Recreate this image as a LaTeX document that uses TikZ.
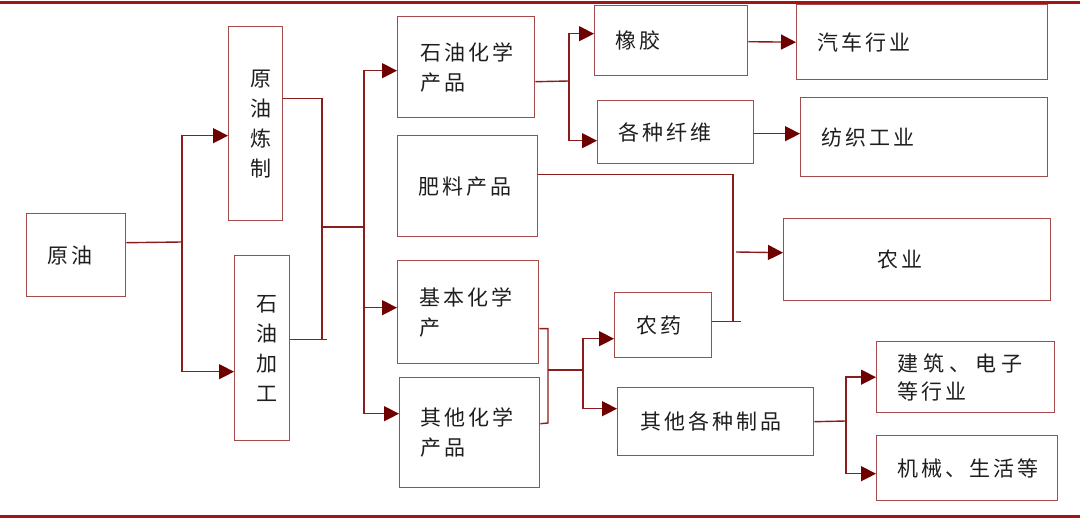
\documentclass[tikz,border=0pt]{standalone}
\usepackage{fontspec}
\newfontfamily\cjk[LetterSpace=14]{Noto Sans CJK SC}
\usetikzlibrary{arrows.meta}
\definecolor{boxc}{HTML}{A34A4A}
\definecolor{linec}{HTML}{8A1C1C}
\definecolor{arrc}{HTML}{6E0000}
\definecolor{rulec}{HTML}{A31515}
\definecolor{txt}{HTML}{1E1E1E}
\begin{document}
\begin{tikzpicture}[x=1pt,y=-1pt,
 box/.style={draw=boxc, line width=1.4pt, anchor=north west, inner ysep=0pt, text=txt, font=\cjk\fontsize{21}{30}\selectfont, align=left},
 conn/.style={draw=linec, line width=1.4pt},
 arr/.style={conn, -{Triangle[length=15pt,width=15pt,color=arrc]}},
 rule/.style={draw=rulec, line width=3pt}]
\useasboundingbox (0,0) rectangle (1080,526);
\draw[rule] (0,2.5) -- (1080,2.5);
\draw[rule] (0,517) -- (1080,517);
% boxes
\node[box, minimum width=99pt, minimum height=83pt, inner xsep=21pt, text width=57pt] (yuanyou) at (26,213) {原油};
\node[box, minimum width=54pt, minimum height=194pt, inner xsep=0pt, text width=54pt, align=center] (lianzhi) at (228,26) {\hspace*{10pt}原\\\hspace*{10pt}油\\\hspace*{10pt}炼\\\hspace*{10pt}制};
\node[box, minimum width=55pt, minimum height=185pt, inner xsep=0pt, text width=55pt, align=center] (jiagong) at (234,255) {\hspace*{9pt}石\\\hspace*{9pt}油\\\hspace*{9pt}加\\\hspace*{9pt}工};
\node[box, minimum width=137pt, minimum height=101pt, inner xsep=23pt, text width=91pt] (shihua) at (397,16) {石油化学\\产品};
\node[box, minimum width=140pt, minimum height=101pt, inner xsep=21pt, text width=98pt] (feiliao) at (397,135) {肥料产品};
\node[box, minimum width=141pt, minimum height=103pt, inner xsep=22pt, text width=97pt] (jiben) at (397,260) {基本化学\\产};
\node[box, minimum width=140pt, minimum height=110pt, inner xsep=21pt, text width=98pt] (qita) at (399,377) {其他化学\\产品};
\node[box, minimum width=153pt, minimum height=70pt, inner xsep=21pt, text width=111pt] (xiangjiao) at (594,5) {橡胶};
\node[box, minimum width=156pt, minimum height=63pt, inner xsep=21pt, text width=114pt] (xianwei) at (597,100) {各种纤维};
\node[box, minimum width=97pt, minimum height=65pt, inner xsep=22pt, text width=53pt] (nongyao) at (614,292) {农药};
\node[box, minimum width=196pt, minimum height=68pt, inner xsep=23pt, text width=150pt] (zhipin) at (617,387) {其他各种制品};
\node[box, minimum width=251pt, minimum height=75pt, inner xsep=21pt, text width=209pt] (qiche) at (796,4) {汽车行业};
\node[box, minimum width=247pt, minimum height=79pt, inner xsep=21pt, text width=205pt] (fangzhi) at (800,97) {纺织工业};
\node[box, minimum width=267pt, minimum height=82pt, inner xsep=94pt, text width=79pt] (nongye) at (783,218) {农业};
\node[box, minimum width=178pt, minimum height=71pt, inner xsep=21pt, text width=136pt, font=\cjk\fontsize{21}{28}\selectfont] (jianzhu) at (876,341) {建\kern5pt 筑\kern5pt 、\kern5pt 电\kern5pt 子\\等行业};
\node[box, minimum width=181pt, minimum height=65pt, inner xsep=21pt, text width=139pt] (jixie) at (876,435) {机械、生活等};
% connectors
\coordinate (j1) at (182,242);
\draw[conn] ([yshift=12.5pt]yuanyou.east) -- (j1);
\draw[arr] (j1) |- ([yshift=-12pt]lianzhi.west);
\draw[arr] (j1) |- ([yshift=-23.5pt]jiagong.west);
\coordinate (j2) at (322,227);
\coordinate (j2a) at (322,340);
\coordinate (j3) at (364,227);
\draw[conn] ([yshift=25pt]lianzhi.east) -| (j2a);
\draw[conn] ([yshift=8.5pt]jiagong.east) -- ++(37,0);
\draw[conn] (j2) -- (j3);
\draw[arr] (j3) |- ([yshift=-3.5pt]shihua.west);
\draw[arr] (j3) |- ([yshift=4.5pt]jiben.west);
\draw[arr] (j3) |- ([yshift=19pt]qita.west);
\coordinate (j4) at (569,81);
\draw[conn] ([yshift=-14.5pt]shihua.east) -- (j4);
\draw[arr] (j4) |- ([yshift=7pt]xiangjiao.west);
\draw[arr] (j4) |- ([yshift=-8.5pt]xianwei.west);
\draw[arr] ([yshift=-1pt]xiangjiao.east) -- (qiche.west);
\draw[arr] ([yshift=-1.5pt]xianwei.east) -- ([yshift=3.5pt]fangzhi.west);
\coordinate (j5) at (733,321);
\draw[conn] ([yshift=11.5pt]feiliao.east) -| (j5);
\draw[conn] ([yshift=3.5pt]nongyao.east) -- ++(29,0);
\coordinate (j6) at (736,252);
\draw[arr] (j6) -- ([yshift=7pt]nongye.west);
\coordinate (j7) at (548,370);
\coordinate (j7b) at (548,423);
\coordinate (j8) at (583,370);
\draw[conn] ([yshift=-16.5pt]jiben.east) -| (j7b) -- ([yshift=9pt]qita.east);
\draw[conn] (j7) -- (j8);
\draw[arr] (j8) |- ([yshift=-13.5pt]nongyao.west);
\draw[arr] (j8) |- ([yshift=13pt]zhipin.west);
\coordinate (j9) at (846,421);
\draw[conn] (zhipin.east) -- (j9);
\draw[arr] (j9) |- (jianzhu.west);
\draw[arr] (j9) |- ([yshift=-5.5pt]jixie.west);
\end{tikzpicture}
\end{document}
